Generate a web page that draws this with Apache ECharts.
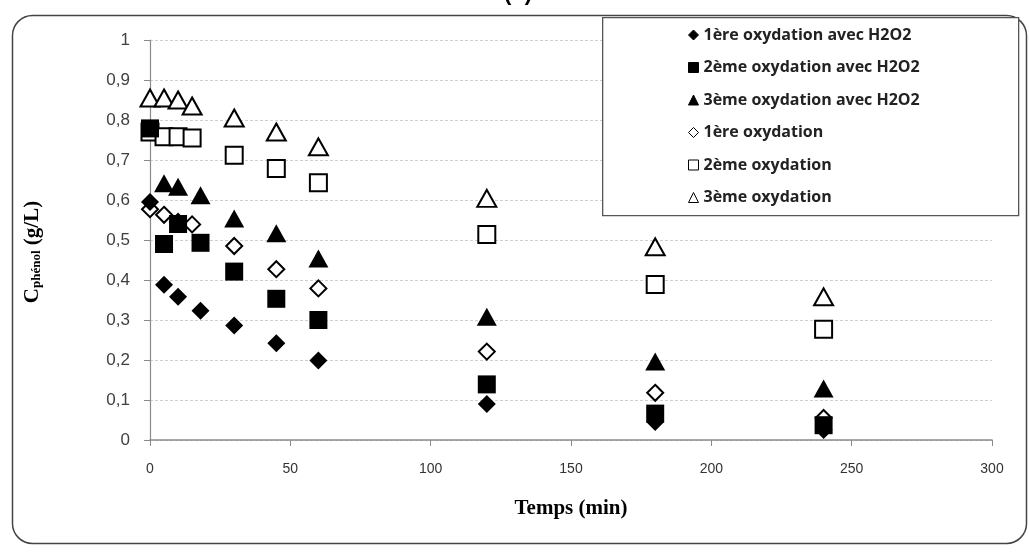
<!DOCTYPE html>
<html>
<head>
<meta charset="utf-8">
<script src="https://cdn.jsdelivr.net/npm/echarts@6/dist/echarts.min.js"></script>
<style>
html,body{margin:0;padding:0;background:#fff;}
#chart{width:1029px;height:554px;}
</style>
</head>
<body>
<div id="chart"></div>
<script>
// ---- data ----
const seriesNames = [
  '1ère oxydation avec H2O2',
  '2ème oxydation avec H2O2',
  '3ème oxydation avec H2O2',
  '1ère oxydation',
  '2ème oxydation',
  '3ème oxydation'
];
const timeH2O2 = [0, 5, 10, 18, 30, 45, 60, 120, 180, 240];
const timeH2O2b = [5, 10, 18, 30, 45, 60, 120, 180, 240];
const timeOx = [0, 5, 10, 15, 30, 45, 60, 120, 180, 240];
const ox1H2O2 = [0.595, 0.388, 0.358, 0.323, 0.286, 0.242, 0.199, 0.09, 0.045, 0.025];
const ox2H2O2 = [0.779, 0.49, 0.540, 0.493, 0.421, 0.353, 0.30, 0.139, 0.066, 0.037];
const ox3H2O2 = [0.642, 0.633, 0.612, 0.554, 0.517, 0.454, 0.308, 0.196, 0.129];
const ox1 = [0.577, 0.563, 0.545, 0.539, 0.485, 0.427, 0.379, 0.221, 0.118, 0.055];
const ox2 = [0.77, 0.758, 0.758, 0.755, 0.712, 0.679, 0.643, 0.514, 0.389, 0.277];
const ox3 = [0.855, 0.855, 0.85, 0.835, 0.805, 0.77, 0.733, 0.604, 0.483, 0.358];
const xTicks = [0, 50, 100, 150, 200, 250, 300];
const yTicks = [0, 0.1, 0.2, 0.3, 0.4, 0.5, 0.6, 0.7, 0.8, 0.9, 1];

const pair = (xs, ys) => xs.map((x, i) => [x, ys[i]]);

const chart = echarts.init(document.getElementById('chart'), null, {renderer: 'canvas'});

const filled = {color: '#000', borderColor: '#000', borderWidth: 0, opacity: 1};
const open = {color: '#fff', borderColor: '#000', borderWidth: 2, opacity: 1};

function sc(name, data, symbol, size, style, z) {
  return {
    name: name, type: 'scatter', data: data, symbol: symbol, symbolSize: size,
    itemStyle: style, z: z, emphasis: {disabled: true}
  };
}

const option = {
  animation: false,
  backgroundColor: '#fff',
  title: {
    text: '(b)', left: 504, top: -17, padding: 0,
    textStyle: {fontFamily: 'Liberation Sans', fontWeight: 'bold', fontSize: 22, color: '#000'}
  },
  grid: {left: 150, right: 37, top: 40, bottom: 114, containLabel: false},
  legend: {
    orient: 'vertical', left: 688, top: 27, itemGap: 16.5, padding: 0,
    itemWidth: 10, itemHeight: 10,
    itemStyle: {borderWidth: 1},
    textStyle: {fontFamily: 'Open Sans', fontWeight: 'bold', fontSize: 16, color: '#222'},
    data: seriesNames
  },
  xAxis: {
    type: 'value', min: 0, max: 300, interval: 50,
    name: 'Temps (min)', nameLocation: 'middle', nameGap: 58,
    nameTextStyle: {fontFamily: 'Liberation Serif', fontWeight: 'bold', fontSize: 21, color: '#000'},
    axisLine: {show: true, lineStyle: {color: '#8a8a8a', width: 1.5}},
    axisTick: {show: true, length: 6, lineStyle: {color: '#8a8a8a'}},
    axisLabel: {margin: 22, fontFamily: 'Liberation Sans', fontSize: 14, color: '#333'},
    splitLine: {show: false}
  },
  yAxis: {
    type: 'value', min: 0, max: 1, interval: 0.1,
    axisLine: {show: true, lineStyle: {color: '#8a8a8a', width: 1.2}},
    axisTick: {show: true, length: 6, lineStyle: {color: '#8a8a8a'}},
    axisLabel: {
      margin: 20, fontFamily: 'Liberation Sans', fontSize: 17, color: '#404040',
      formatter: v => String(Math.round(v * 10) / 10).replace('.', ',')
    },
    splitLine: {show: true, lineStyle: {color: '#cfcfcf', type: [3, 2], width: 1}}
  },
  graphic: [
    {
      type: 'rect', left: 10, top: 13, z: -1, silent: true,
      shape: {width: 1014, height: 528, r: 20},
      style: {fill: 'none', stroke: '#444', lineWidth: 1.5}
    },
    {
      type: 'rect', left: 602, top: 17, z: 1, silent: true,
      shape: {width: 416, height: 198},
      style: {fill: '#fff', stroke: '#555', lineWidth: 1.3}
    },
    {
      type: 'text', x: 37, y: 252, rotation: Math.PI / 2, silent: true,
      style: {
        text: '{a|C}{b|phénol}{a| (g/L)}',
        align: 'center', verticalAlign: 'middle',
        rich: {
          a: {fontFamily: 'Liberation Serif', fontWeight: 'bold', fontSize: 21, color: '#000', height: 26, verticalAlign: 'top'},
          b: {fontFamily: 'Liberation Serif', fontWeight: 'bold', fontSize: 13, color: '#000', height: 34, verticalAlign: 'bottom'}
        }
      }
    }
  ],
  series: [
    sc(seriesNames[0], pair(timeH2O2, ox1H2O2), 'diamond', [18, 18], filled, 4),
    sc(seriesNames[1], pair(timeH2O2, ox2H2O2), 'rect', [18, 18], filled, 4),
    sc(seriesNames[2], pair(timeH2O2b, ox3H2O2), 'triangle', [20, 18], filled, 4),
    sc(seriesNames[3], pair(timeOx, ox1), 'diamond', [16, 16], open, 3),
    sc(seriesNames[4], pair(timeOx, ox2), 'rect', [17, 17], open, 3),
    sc(seriesNames[5], pair(timeOx, ox3), 'triangle', [19, 17], open, 3)
  ]
};
chart.setOption(option);
</script>
</body>
</html>
